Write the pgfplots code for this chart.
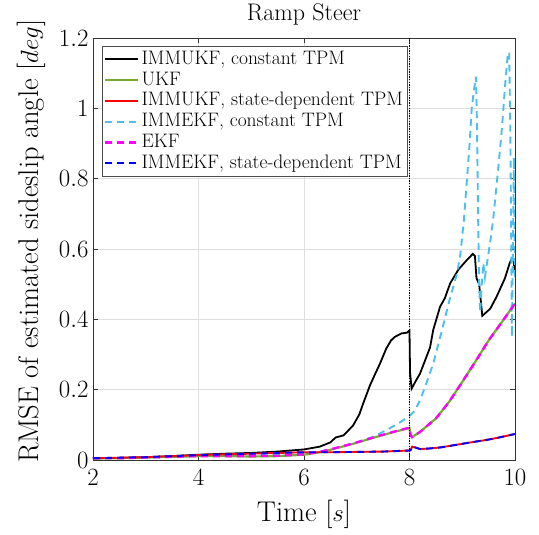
\documentclass[border=0pt]{standalone}
\usepackage{pgfplots}
\pgfplotsset{compat=1.18}
\definecolor{ukfgreen}{RGB}{119,172,48}
\definecolor{ekfcyan}{RGB}{77,190,238}
\definecolor{ekfmag}{RGB}{255,0,255}
\definecolor{sdred}{RGB}{255,0,0}
\definecolor{sdblue}{RGB}{0,0,255}
\begin{document}
\begin{tikzpicture}
\useasboundingbox (-93pt,-75pt) rectangle (446pt,460pt);
\begin{axis}[
  at={(0pt,0pt)}, anchor=south west,
  scale only axis, width=422pt, height=422pt,
  xmin=2, xmax=10, ymin=0, ymax=1.2,
  xtick={2,4,6,8,10}, ytick={0,0.2,0.4,0.6,0.8,1,1.2},
  grid=major, major grid style={black!13, line width=0.8pt},
  tick align=inside, major tick length=5pt,
  axis line style={black!80, line width=0.8pt},
  tick style={black!80, line width=0.8pt},
  ticklabel style={font=\fontsize{24}{28}\selectfont},
  yticklabel style={xshift=-1pt},
  xticklabel style={yshift=-6pt},
  xlabel={Time [$s$]},
  ylabel={RMSE of estimated sideslip angle [$deg$]},
  label style={font=\fontsize{28.5}{32}\selectfont},
  xlabel style={at={(axis description cs:0.5,-0.128)}, anchor=center},
  ylabel style={at={(axis description cs:-0.147,0.518)}, anchor=center, rotate=0},
  title={Ramp Steer},
  title style={font=\fontsize{24}{28}\selectfont, at={(axis description cs:0.5,1)}, anchor=base, yshift=11pt},
  legend style={at={(0.021,0.981)}, anchor=north west, draw=black!70, line width=0.8pt, fill=white,
    font=\fontsize{19.5}{23}\selectfont, inner xsep=2pt, inner ysep=2.5pt, row sep=0pt,
    nodes={inner xsep=2pt, inner ysep=0.4pt, text height=15pt, text depth=5pt}},
  legend cell align=left,
  legend image code/.code={\draw[#1] (0pt,0pt) -- (33pt,0pt);},
]
\addlegendimage{black, line width=1.8pt}
\addlegendentry{IMMUKF, constant TPM}
\addlegendimage{ukfgreen, line width=2.2pt}
\addlegendentry{UKF}
\addlegendimage{sdred, line width=1.9pt}
\addlegendentry{IMMUKF, state-dependent TPM}
\addlegendimage{ekfcyan, line width=1.9pt, dash pattern=on 7pt off 5pt}
\addlegendentry{IMMEKF, constant TPM}
\addlegendimage{ekfmag, line width=2.3pt, dash pattern=on 7pt off 5pt}
\addlegendentry{EKF}
\addlegendimage{sdblue, line width=1.9pt, dash pattern=on 7pt off 5pt}
\addlegendentry{IMMEKF, state-dependent TPM}
\addplot[black, line width=1.8pt, forget plot] coordinates {
(2,0.005) (2.5,0.006) (3,0.008) (3.5,0.011) (4,0.015) (4.5,0.018) (5,0.02) (5.5,0.024) (6,0.03) (6.3,0.038) (6.5,0.05) (6.6,0.064) (6.75,0.07) (6.93,0.098) (7.05,0.13) (7.12,0.16) (7.25,0.212) (7.35,0.245) (7.44,0.274) (7.56,0.317) (7.65,0.34) (7.72,0.35) (7.85,0.36) (7.95,0.362) (8.0,0.368) (8.01,0.25) (8.04,0.203) (8.12,0.225) (8.2,0.246) (8.3,0.285) (8.39,0.32) (8.45,0.37) (8.58,0.436) (8.67,0.46) (8.77,0.502) (8.93,0.542) (9.09,0.569) (9.2,0.586) (9.24,0.58) (9.27,0.517) (9.32,0.50) (9.38,0.41) (9.53,0.43) (9.65,0.464) (9.81,0.517) (9.9,0.56) (9.94,0.573) (9.97,0.569) (9.99,0.545) (10,0.52)
};
\addplot[ukfgreen, line width=2.2pt, forget plot] coordinates {
(2,0.005)(2.5,0.005)(3,0.007)(3.5,0.009)(4,0.011)(4.5,0.011)(5,0.01)(5.5,0.011)(6,0.015)(6.3,0.022)(6.55,0.031)(6.93,0.046)(7.31,0.063)(7.69,0.079)(8.0,0.091)(8.02,0.07)(8.05,0.065)(8.2,0.08)(8.5,0.118)(8.75,0.165)(9,0.222)(9.25,0.28)(9.5,0.34)(9.75,0.392)(10,0.445)
};
\addplot[sdred, line width=1.9pt, forget plot] coordinates {
(2,0.005)(3,0.008)(4,0.014)(5,0.018)(6,0.022)(6.5,0.022)(7,0.023)(7.5,0.024)(8,0.027)(8.02,0.028)(8.05,0.038)(8.1,0.036)(8.2,0.031)(8.4,0.033)(8.6,0.036)(8.8,0.041)(9.0,0.046)(9.2,0.051)(9.46,0.057)(9.7,0.064)(10,0.074)
};
\addplot[ekfcyan, line width=1.9pt, dash pattern=on 7pt off 5pt, forget plot] coordinates {
(2,0.005)(3,0.007)(4,0.012)(5,0.012)(6,0.017)(6.5,0.03)(7,0.05)(7.3,0.065)(7.6,0.088)(7.8,0.105)(8.0,0.125)(8.1,0.14)(8.2,0.17)(8.3,0.21)(8.45,0.274)(8.6,0.36)(8.75,0.45)(8.9,0.53)(8.96,0.58)(9.03,0.68)(9.09,0.8)(9.14,0.9)(9.18,1.0)(9.22,1.05)(9.26,1.09)(9.28,0.95)(9.3,0.7)(9.32,0.5)(9.34,0.42)(9.37,0.5)(9.4,0.56)(9.43,0.52)(9.47,0.56)(9.53,0.62)(9.59,0.69)(9.68,0.825)(9.75,0.94)(9.81,1.06)(9.86,1.15)(9.89,1.16)(9.91,0.95)(9.93,0.6)(9.94,0.35)(9.96,0.6)(9.98,0.86)(10,0.52)
};
\addplot[ekfmag, line width=2.3pt, dash pattern=on 7pt off 5pt, forget plot] coordinates {
(2,0.005)(2.5,0.005)(3,0.007)(3.5,0.009)(4,0.011)(4.5,0.011)(5,0.011)(5.5,0.012)(6,0.016)(6.3,0.023)(6.55,0.032)(6.93,0.047)(7.31,0.064)(7.69,0.08)(8.0,0.092)(8.02,0.07)(8.05,0.065)(8.2,0.08)(8.5,0.118)(8.75,0.165)(9,0.222)(9.25,0.28)(9.5,0.34)(9.75,0.392)(10,0.445)
};
\addplot[sdblue, line width=1.9pt, dash pattern=on 7pt off 5pt, forget plot] coordinates {
(2,0.005)(3,0.008)(4,0.014)(5,0.018)(6,0.022)(6.5,0.022)(7,0.023)(7.5,0.024)(8,0.027)(8.02,0.028)(8.05,0.038)(8.1,0.036)(8.2,0.031)(8.4,0.033)(8.6,0.036)(8.8,0.041)(9.0,0.046)(9.2,0.051)(9.46,0.057)(9.7,0.064)(10,0.074)
};
\addplot[black, line width=1.5pt, dash pattern=on 1.3pt off 1.3pt, forget plot] coordinates {(8,0) (8,1.2)};
\end{axis}
\end{tikzpicture}
\end{document}
